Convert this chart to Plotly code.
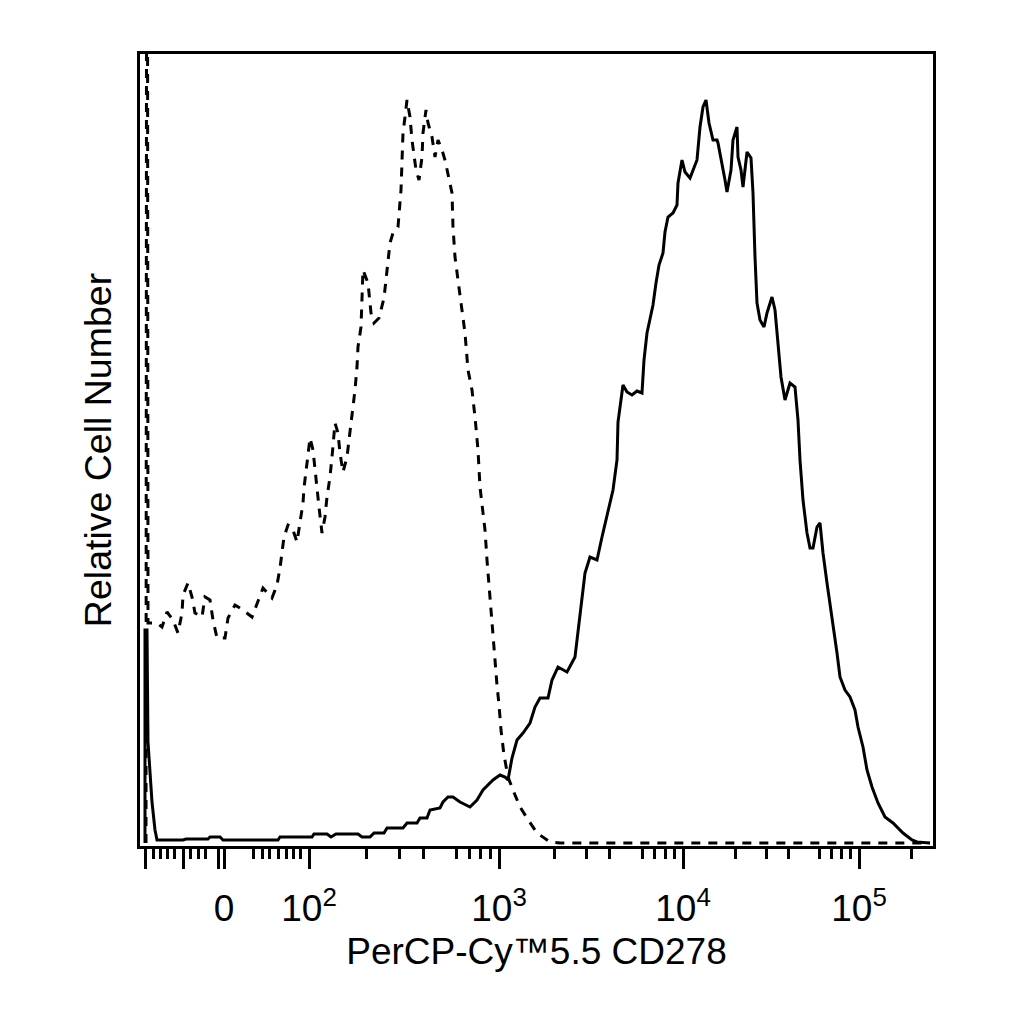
import numpy as np
import plotly.graph_objects as go

# display channel (biexponential scale, 0..793 across the plot) and event counts
isotype_channel = [6, 7, 8, 12, 17, 22, 27, 33, 38, 42, 43, 48, 52, 55, 62, 65, 70, 73, 77, 85, 88,
                   95, 103, 112, 117, 123, 132, 137, 140, 142, 144, 148, 152, 157, 160, 163, 164, 166, 168, 170, 173,
                   175, 177, 179, 182, 185, 187, 190, 192, 194, 195, 198, 200, 203, 207, 209, 211, 213, 215, 217, 218,
                   221, 223, 228, 231, 234, 239, 244, 247, 250, 253, 258, 261, 262, 263, 265, 267, 270, 272, 276, 279,
                   282, 283, 286, 288, 292, 295, 298, 302, 305, 308, 312, 313, 315, 318, 322, 325, 328, 332, 335, 338,
                   340, 342, 345, 347, 350, 353, 355, 357, 359, 361, 364, 368, 373, 380, 387, 397, 410, 420, 790]
isotype_count = [0, 1600, 220, 220, 220, 216, 231, 223, 210, 230, 248, 260, 246, 230, 226, 246, 243, 223, 205, 205, 225,
                 238, 233, 226, 240, 255, 245, 258, 275, 290, 306, 318, 316, 301, 320, 340, 355, 373, 388, 405, 393,
                 376, 353, 336, 310, 326, 346, 366, 386, 410, 420, 410, 390, 371, 386, 403, 418, 435, 453, 476, 496,
                 516, 573, 560, 530, 520, 525, 545, 575, 600, 610, 616, 653, 676, 710, 726, 743, 726, 703, 673, 663,
                 686, 710, 733, 720, 706, 686, 703, 693, 683, 670, 650, 616, 586, 563, 530, 510, 473, 453, 426, 393,
                 356, 338, 313, 283, 243, 210, 183, 158, 138, 113, 88, 66, 53, 36, 25, 10, 1, 0, 0]

cd278_channel = [5, 5, 7, 8, 12, 15, 17, 43, 46, 68, 70, 80, 83, 138, 140, 172, 174, 187, 191, 196,
                 218, 222, 230, 234, 244, 247, 263, 267, 277, 280, 287, 290, 300, 303, 308, 313, 320, 330, 337, 343,
                 353, 360, 365, 368, 372, 377, 383, 390, 395, 400, 408, 412, 418, 427, 435, 438, 442, 445, 450, 457,
                 462, 468, 473, 477, 478, 483, 487, 492, 497, 502, 504, 507, 510, 513, 516, 519, 523, 525, 528, 533,
                 537, 538, 542, 545, 550, 557, 560, 563, 566, 569, 573, 577, 578, 582, 585, 587, 591, 593, 597, 598,
                 601, 603, 605, 607, 611, 613, 615, 617, 620, 624, 627, 632, 635, 638, 641, 645, 650, 655, 658, 660,
                 663, 667, 670, 673, 677, 680, 683, 687, 690, 693, 697, 700, 705, 710, 715, 718, 723, 727, 732, 738,
                 745, 753, 763, 772, 777, 790]
cd278_count = [0, 213, 213, 101, 41, 13, 3, 3, 4, 4, 6, 6, 3, 3, 6, 6, 9, 9, 6, 9,
               9, 6, 6, 10, 10, 15, 15, 20, 20, 25, 25, 33, 35, 41, 46, 46, 41, 36, 43, 53,
               63, 68, 66, 63, 85, 103, 110, 120, 136, 145, 145, 163, 176, 171, 186, 213, 243, 270, 286, 283,
               306, 330, 353, 383, 421, 458, 451, 448, 452, 450, 483, 510, 525, 538, 560, 578, 590, 611, 626, 630,
               638, 660, 683, 671, 665, 683, 716, 736, 743, 720, 703, 703, 700, 680, 663, 651, 673, 703, 716, 686,
               673, 656, 676, 691, 685, 650, 586, 540, 523, 516, 530, 546, 533, 500, 466, 443, 460, 456, 423, 383,
               343, 310, 295, 295, 316, 320, 290, 260, 240, 216, 190, 166, 153, 146, 133, 116, 96, 73, 56, 40,
               26, 20, 10, 3, 1, 0]

# axis: where the labelled values sit on the display scale
tick_labels = ["0", "10<sup>2</sup>", "10<sup>3</sup>", "10<sup>4</sup>", "10<sup>5</sup>"]
tick_channels = [84, 169, 359, 543, 719]
extra_long_ticks = [5, 43, 78]
low_minor_ticks = [13, 20, 27, 34, 50, 58, 65, 113, 122, 129, 138, 146, 153, 160]

decades = tick_channels[1:]
widths = list(np.diff(decades)) + [176]
minor_ticks = list(low_minor_ticks)
mid_ticks = []
for start, w in zip(decades, widths):
    for k in range(2, 10):
        pos = start + w * np.log10(k)
        if pos > 790:
            break
        if k == 5:
            mid_ticks.append(pos)
        else:
            minor_ticks.append(pos)

fig = go.Figure()

fig.add_trace(go.Scatter(
    x=isotype_channel, y=isotype_count, mode="lines",
    line=dict(color="black", width=3, dash="9px,8px"),
    name="Isotype", hoverinfo="skip"))

fig.add_trace(go.Scatter(
    x=cd278_channel, y=cd278_count, mode="lines",
    line=dict(color="black", width=3),
    name="CD278", hoverinfo="skip"))

# page body adds 8px offset, margins account for it
fig.update_layout(
    width=1024, height=1024,
    margin=dict(l=132, r=99, t=46, b=186),
    paper_bgcolor="white", plot_bgcolor="white",
    showlegend=False,
    font=dict(family="Liberation Sans, Arial, sans-serif", color="black"),
    xaxis=dict(
        range=[0, 793], showgrid=False, zeroline=False,
        showline=True, mirror=True, linecolor="black", linewidth=3,
        tickmode="array",
        tickvals=extra_long_ticks + tick_channels,
        ticktext=[""] * len(extra_long_ticks) + tick_labels,
        ticks="outside", ticklen=20, tickwidth=2.5, tickcolor="black",
        tickfont=dict(size=37), ticklabelstandoff=8,
        minor=dict(tickmode="array", tickvals=minor_ticks, ticks="outside",
                   ticklen=10, tickwidth=2.5, tickcolor="black", showgrid=False),
        title=dict(text="PerCP-Cy™5.5 CD278", font=dict(size=37), standoff=10),
    ),
    xaxis2=dict(
        range=[0, 793], overlaying="x", anchor="y", side="bottom",
        showgrid=False, zeroline=False, showline=False,
        tickmode="array", tickvals=mid_ticks, showticklabels=False,
        ticks="outside", ticklen=15, tickwidth=2.5, tickcolor="black",
    ),
    yaxis=dict(
        range=[-3, 789], showgrid=False, zeroline=False,
        showline=True, mirror=True, linecolor="black", linewidth=3,
        ticks="", showticklabels=False,
        title=dict(text="Relative Cell Number", font=dict(size=37.5), standoff=14),
    ),
)

fig.write_html("out.html")
